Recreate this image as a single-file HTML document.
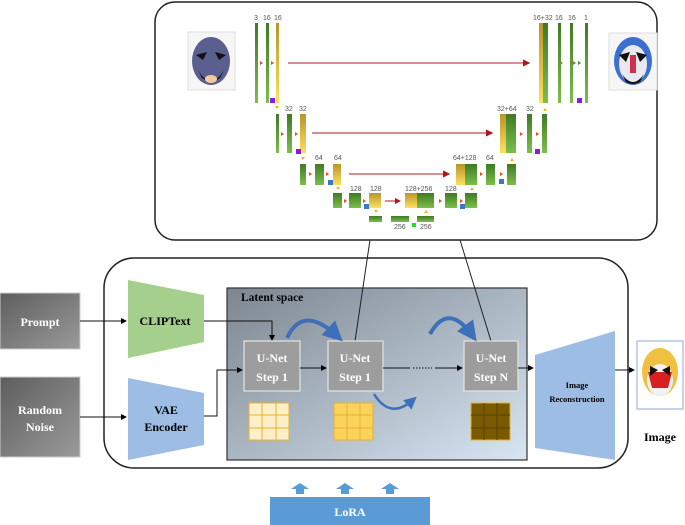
<!DOCTYPE html>
<html><head><meta charset="utf-8"><style>
html,body{margin:0;padding:0;background:#fff;width:685px;height:525px;overflow:hidden}
svg{display:block}
text{font-family:"Liberation Serif",serif;font-weight:bold}
.s{font-family:"Liberation Sans",sans-serif;font-weight:normal;font-size:7px;fill:#555}
</style></head><body>
<svg width="685" height="525" viewBox="0 0 685 525">
<defs>
<linearGradient id="g" x1="0" y1="0" x2="0" y2="1"><stop offset="0" stop-color="#3f7a25"/><stop offset="1" stop-color="#7cbf4a"/></linearGradient>
<linearGradient id="y" x1="0" y1="0" x2="0" y2="1"><stop offset="0" stop-color="#b8952a"/><stop offset="1" stop-color="#fde060"/></linearGradient>
<linearGradient id="ls" x1="0" y1="0" x2="1" y2="1"><stop offset="0" stop-color="#7d868f"/><stop offset="0.5" stop-color="#aab6c2"/><stop offset="1" stop-color="#d8e6f3"/></linearGradient>
<linearGradient id="gr" x1="0" y1="0" x2="1" y2="1"><stop offset="0" stop-color="#5e5e5e"/><stop offset="1" stop-color="#9a9a9a"/></linearGradient>
<marker id="a" markerWidth="6" markerHeight="6" refX="5" refY="3" orient="auto"><path d="M0,0 L6,3 L0,6z" fill="#000"/></marker>
<marker id="r" markerWidth="6" markerHeight="6" refX="5" refY="3" orient="auto"><path d="M0,0 L6,3 L0,6z" fill="#b01818"/></marker>
<marker id="b" markerWidth="5" markerHeight="5" refX="3" refY="2.5" orient="auto"><path d="M0,0 L5,2.5 L0,5z" fill="#3d70b8"/></marker>
</defs>
<!-- top box -->
<rect x="155" y="2" width="502" height="238" rx="20" fill="#fff" stroke="#222" stroke-width="1.5"/>
<!-- faces -->
<rect x="188" y="32" width="47" height="58" fill="#f6f6f6" stroke="#ddd"/>
<ellipse cx="211" cy="61" rx="19" ry="24" fill="#5a5f90"/>
<path d="M196,55 L207,52 L203,60 Z M226,55 L215,52 L219,60 Z" fill="#111"/>
<path d="M198,70 Q211,92 224,70 L220,78 Q211,84 202,78 Z" fill="#111"/>
<ellipse cx="211" cy="79" rx="6" ry="4" fill="#f3c9a0"/>
<rect x="609" y="33" width="48" height="57" fill="#f6f6f6" stroke="#ddd"/>
<ellipse cx="633" cy="61" rx="19" ry="24" fill="#3b6fd0"/>
<ellipse cx="633" cy="64" rx="14" ry="19" fill="#e8e8ee"/>
<path d="M619,55 L630,52 L626,62 Z M647,55 L636,52 L640,62 Z" fill="#111"/>
<rect x="630" y="55" width="6" height="18" fill="#d03050"/>
<path d="M622,74 Q633,90 644,74 L640,82 Q633,86 626,82Z" fill="#111"/>
<!-- level1 left -->
<rect x="255" y="23" width="3" height="80" fill="url(#g)"/>
<rect x="266" y="23" width="3" height="80" fill="url(#g)"/>
<rect x="276" y="23" width="3" height="80" fill="url(#y)"/>
<text class="s" x="254" y="20" font-size="6">3</text><text class="s" x="263" y="20">16</text><text class="s" x="274" y="20">16</text>
<rect x="270" y="98" width="5" height="5" fill="#8a1be0"/>
<g fill="#e8501a"><path d="M260,61 l3,2 l-3,2z"/><path d="M271,61 l3,2 l-3,2z"/><path d="M560,61 l3,2 l-3,2z"/><path d="M573,61 l3,2 l-3,2z"/></g>
<path d="M578,61 l3,2 l-3,2z" fill="#1aa030"/>
<line x1="288" y1="63" x2="529" y2="63" stroke="#c04a4a" stroke-width="1.2" marker-end="url(#r)"/>
<!-- level1 right -->
<rect x="539" y="23" width="4" height="80" fill="url(#y)"/>
<rect x="543" y="23" width="5" height="80" fill="url(#g)"/>
<rect x="558" y="23" width="3" height="80" fill="url(#g)"/>
<rect x="570" y="23" width="3" height="80" fill="url(#g)"/>
<rect x="585" y="23" width="3" height="80" fill="url(#g)"/>
<rect x="577" y="98" width="5" height="5" fill="#8a1be0"/>
<text class="s" x="533" y="20">16+32</text><text class="s" x="555" y="20">16</text><text class="s" x="568" y="20">16</text><text class="s" x="584" y="20">1</text>
<!-- level2 -->
<rect x="276" y="114" width="3" height="39" fill="url(#g)"/>
<rect x="287" y="114" width="5" height="39" fill="url(#g)"/>
<rect x="300" y="114" width="6" height="39" fill="url(#y)"/>
<rect x="296" y="149" width="5" height="5" fill="#8a1be0"/>
<text class="s" x="285" y="111">32</text><text class="s" x="299" y="111">32</text>
<g fill="#e8501a"><path d="M281,132 l3,2 l-3,2z"/><path d="M295,132 l3,2 l-3,2z"/><path d="M520,132 l3,2 l-3,2z"/><path d="M536,132 l3,2 l-3,2z"/></g>
<line x1="312" y1="133" x2="492" y2="133" stroke="#c04a4a" stroke-width="1.2" marker-end="url(#r)"/>
<rect x="500" y="114" width="6" height="39" fill="url(#y)"/>
<rect x="506" y="114" width="10" height="39" fill="url(#g)"/>
<rect x="527" y="114" width="5" height="39" fill="url(#g)"/>
<rect x="542" y="114" width="5" height="39" fill="url(#g)"/>
<rect x="535" y="149" width="5" height="5" fill="#8a1be0"/>
<text class="s" x="497" y="111">32+64</text><text class="s" x="526" y="111">32</text>
<!-- level3 -->
<rect x="300" y="164" width="6" height="21" fill="url(#g)"/>
<rect x="315" y="164" width="9" height="21" fill="url(#g)"/>
<rect x="333" y="164" width="8" height="21" fill="url(#y)"/>
<rect x="328" y="180" width="5" height="5" fill="#3a78c8"/>
<text class="s" x="315" y="160">64</text><text class="s" x="334" y="160">64</text>
<line x1="349" y1="174" x2="449" y2="174" stroke="#c04a4a" stroke-width="1.2" marker-end="url(#r)"/>
<rect x="456" y="164" width="9" height="21" fill="url(#y)"/>
<rect x="465" y="164" width="12" height="21" fill="url(#g)"/>
<rect x="486" y="164" width="9" height="21" fill="url(#g)"/>
<rect x="507" y="164" width="9" height="21" fill="url(#g)"/>
<rect x="499" y="179" width="5" height="5" fill="#3a78c8"/>
<text class="s" x="453" y="160">64+128</text><text class="s" x="486" y="160">64</text>
<g fill="#e8501a"><path d="M309,172 l3,2 l-3,2z"/><path d="M326,172 l3,2 l-3,2z"/><path d="M480,172 l3,2 l-3,2z"/><path d="M500,172 l3,2 l-3,2z"/></g>
<!-- level4 -->
<rect x="333" y="193" width="9" height="15" fill="url(#g)"/>
<rect x="349" y="193" width="12" height="15" fill="url(#g)"/>
<rect x="369" y="193" width="12" height="15" fill="url(#y)"/>
<rect x="364" y="204" width="5" height="5" fill="#3a78c8"/>
<text class="s" x="350" y="191">128</text><text class="s" x="370" y="191">128</text>
<line x1="385" y1="201" x2="400" y2="201" stroke="#a02020" stroke-width="1" marker-end="url(#r)"/>
<rect x="405" y="193" width="12" height="15" fill="url(#y)"/>
<rect x="417" y="193" width="17" height="15" fill="url(#g)"/>
<text class="s" x="405" y="191">128+256</text>
<rect x="445" y="193" width="12" height="15" fill="url(#g)"/>
<rect x="465" y="193" width="12" height="15" fill="url(#g)"/>
<rect x="460" y="204" width="5" height="5" fill="#3a78c8"/>
<text class="s" x="445" y="191">128</text>
<g fill="#e8501a"><path d="M344,199 l3,2 l-3,2z"/><path d="M363,199 l3,2 l-3,2z"/><path d="M439,199 l3,2 l-3,2z"/><path d="M460,199 l3,2 l-3,2z"/></g>
<!-- level5 -->
<rect x="369" y="216" width="13" height="6" fill="url(#g)"/>
<rect x="391" y="216" width="18" height="6" fill="url(#g)"/>
<rect x="417" y="216" width="17" height="6" fill="url(#g)"/>
<rect x="412" y="223" width="4" height="4" fill="#22dd22"/>
<text class="s" x="394" y="229">256</text><text class="s" x="420" y="229">256</text>
<g fill="#e8b820" font-size="5"><path d="M275,106 l2,3 l2,-3z"/><path d="M301,157 l2,3 l2,-3z"/><path d="M336,187 l2,3 l2,-3z"/><path d="M374,210 l2,3 l2,-3z"/><path d="M424,213 l2,-3 l2,3z"/><path d="M470,190 l2,-3 l2,3z"/><path d="M510,161 l2,-3 l2,3z"/><path d="M543,111 l2,-3 l2,3z"/></g>
<!-- bottom box -->
<rect x="104" y="258" width="524" height="210" rx="30" fill="#fff" stroke="#222" stroke-width="1.5"/>
<rect x="227" y="288" width="300" height="172" fill="url(#ls)" stroke="#333" stroke-width="1.2"/>
<text x="241" y="301" font-size="11.5">Latent space</text>
<line x1="370" y1="240" x2="355" y2="341" stroke="#222" stroke-width="1"/>
<line x1="460" y1="240" x2="491" y2="341" stroke="#222" stroke-width="1"/>
<!-- prompt / noise -->
<rect x="0" y="293" width="80" height="56" fill="url(#gr)" stroke="#ccc"/>
<text x="40" y="326" font-size="12" fill="#fff" text-anchor="middle">Prompt</text>
<rect x="0" y="377" width="80" height="80" fill="url(#gr)" stroke="#ccc"/>
<text x="40" y="414" font-size="12" fill="#fff" text-anchor="middle">Random</text>
<text x="40" y="431" font-size="12" fill="#fff" text-anchor="middle">Noise</text>
<line x1="80" y1="321" x2="126" y2="321" stroke="#111" marker-end="url(#a)"/>
<line x1="80" y1="417" x2="126" y2="417" stroke="#111" marker-end="url(#a)"/>
<polygon points="128,280 204,295 204,342 128,358" fill="#a4cf8c"/>
<text x="165" y="325" font-size="12" text-anchor="middle">CLIPText</text>
<polygon points="128,378 204,393 204,445 128,460" fill="#9dbde4"/>
<text x="166" y="414" font-size="12" text-anchor="middle">VAE</text>
<text x="166" y="431" font-size="12" text-anchor="middle">Encoder</text>
<polyline points="204,321 272,321 272,340" fill="none" stroke="#111" marker-end="url(#a)"/>
<polyline points="204,416 217,416 217,370 242,370" fill="none" stroke="#111" marker-end="url(#a)"/>
<!-- unets -->
<g fill="#9d9d9d" stroke="#e4e4e4" stroke-width="1.2">
<rect x="244" y="341" width="56" height="50"/><rect x="328" y="341" width="55" height="50"/><rect x="464" y="341" width="54" height="50"/></g>
<g fill="#fff" font-size="12" text-anchor="middle">
<text x="272" y="362">U-Net</text><text x="272" y="381">Step 1</text>
<text x="355" y="362">U-Net</text><text x="355" y="381">Step 1</text>
<text x="491" y="362">U-Net</text><text x="491" y="381">Step N</text></g>
<line x1="300" y1="368" x2="326" y2="368" stroke="#111" marker-end="url(#a)"/>
<line x1="383" y1="368" x2="410" y2="368" stroke="#111"/>
<line x1="413" y1="368" x2="432" y2="368" stroke="#111" stroke-dasharray="1.5,1.5"/>
<line x1="435" y1="368" x2="462" y2="368" stroke="#111" marker-end="url(#a)"/>
<g fill="none" stroke="#3d70b8" stroke-width="4">
<path d="M287,338 Q303,304 337,336" marker-end="url(#b)"/>
<path d="M430,334 Q448,302 472,335" marker-end="url(#b)"/>
<path d="M374,394 Q390,420 413,400" stroke-width="2.5" marker-end="url(#b)"/></g>
<!-- grids -->
<g stroke="#e8b030" stroke-width="1">
<rect x="249" y="403" width="40" height="37" fill="#fdf0c8"/>
<path d="M262,403v37M276,403v37M249,415h40M249,428h40"/>
<rect x="334" y="403" width="39" height="37" fill="#fad35a"/>
<path d="M347,403v37M360,403v37M334,415h39M334,428h39"/>
<rect x="471" y="403" width="39" height="37" fill="#7a5a00"/>
<path d="M484,403v37M497,403v37M471,415h39M471,428h39" stroke="#5a4200"/></g>
<!-- reconstruction -->
<line x1="518" y1="368" x2="533" y2="368" stroke="#111" marker-end="url(#a)"/>
<polygon points="535,355 615,331 615,460 535,448" fill="#9dbde4"/>
<text x="577" y="388" font-size="8.5" text-anchor="middle">Image</text>
<text x="577" y="402" font-size="8.5" text-anchor="middle">Reconstruction</text>
<line x1="615" y1="370" x2="634" y2="370" stroke="#111" marker-end="url(#a)"/>
<rect x="637" y="341" width="46" height="68" fill="#fff" stroke="#8aa8d8"/>
<ellipse cx="660" cy="372" rx="18" ry="24" fill="#f0c040"/>
<ellipse cx="660" cy="380" rx="13" ry="16" fill="#f2f2f2"/>
<path d="M648,372 L672,372 L668,388 L652,388Z" fill="#d82020"/>
<path d="M650,366 L658,370 L650,376Z M670,366 L662,370 L670,376Z" fill="#111"/>
<text x="660" y="441" font-size="12" text-anchor="middle">Image</text>
<!-- LoRA -->
<rect x="270" y="497" width="160" height="28" fill="#5b9bd5"/>
<text x="350" y="516" font-size="12" fill="#fff" text-anchor="middle">LoRA</text>
<g fill="#5b9bd5"><path d="M300,483 l-9,6 h5 v5 h8 v-5 h5z"/><path d="M345,483 l-9,6 h5 v5 h8 v-5 h5z"/><path d="M390,483 l-9,6 h5 v5 h8 v-5 h5z"/></g>
</svg>
</body></html>
